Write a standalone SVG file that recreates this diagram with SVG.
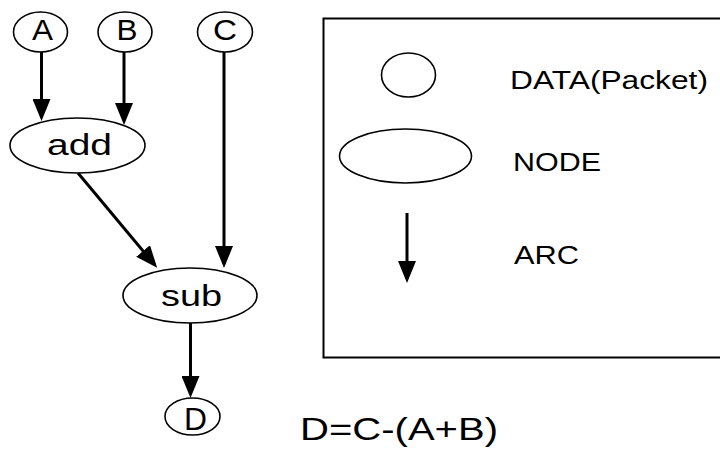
<svg xmlns="http://www.w3.org/2000/svg" width="720" height="452" viewBox="0 0 720 452">
  <style>
    .shape { fill: #ffffff; stroke: #000000; stroke-width: 1.6; }
    .arc { stroke: #000000; stroke-width: 3; fill: none; marker-end: url(#head); }
    .lbl { font-family: "Liberation Sans", Arial, sans-serif; fill: #000000; }
  </style>
  <defs>
    <marker id="head" viewBox="0 0 22 18" refX="18" refY="9" markerWidth="22" markerHeight="18" markerUnits="userSpaceOnUse" orient="auto">
      <path d="M0,0 L22,9 L0,18 Z" fill="#000000"/>
    </marker>
  </defs>

  <!-- dataflow arcs -->
  <g id="connectors">
    <line class="arc" x1="41.5" y1="52" x2="41.5" y2="117"/>
    <line class="arc" x1="124" y1="52" x2="124" y2="121"/>
    <line class="arc" x1="78" y1="173" x2="154.6" y2="264.8"/>
    <line class="arc" x1="224" y1="52" x2="224" y2="264"/>
    <line class="arc" x1="190.5" y1="323" x2="190.5" y2="394"/>
  </g>

  <!-- data packets and operator nodes -->
  <g id="A">
    <ellipse class="shape" cx="40.5" cy="32" rx="27" ry="20"/>
    <text class="lbl" x="32" y="39.5" font-size="29" textLength="21" lengthAdjust="spacingAndGlyphs">A</text>
  </g>
  <g id="B">
    <ellipse class="shape" cx="125" cy="32" rx="27" ry="20"/>
    <text class="lbl" x="116.5" y="39.5" font-size="29" textLength="21" lengthAdjust="spacingAndGlyphs">B</text>
  </g>
  <g id="C">
    <ellipse class="shape" cx="225" cy="32" rx="27.5" ry="20"/>
    <text class="lbl" x="213" y="40" font-size="29" textLength="24" lengthAdjust="spacingAndGlyphs">C</text>
  </g>
  <g id="add">
    <ellipse class="shape" cx="77.5" cy="145.5" rx="67.5" ry="27.5"/>
    <text class="lbl" x="47" y="155" font-size="29" textLength="65" lengthAdjust="spacingAndGlyphs">add</text>
  </g>
  <g id="sub">
    <ellipse class="shape" cx="190" cy="295.5" rx="67" ry="27.5"/>
    <text class="lbl" x="161" y="306" font-size="30" textLength="61" lengthAdjust="spacingAndGlyphs">sub</text>
  </g>
  <g id="D">
    <ellipse class="shape" cx="192.5" cy="416.5" rx="27.5" ry="18.5"/>
    <text class="lbl" x="184" y="430" font-size="31" textLength="23" lengthAdjust="spacingAndGlyphs">D</text>
  </g>

  <!-- legend -->
  <g id="legend">
    <rect x="323.5" y="18.5" width="420" height="339" fill="none" stroke="#000000" stroke-width="2"/>
    <ellipse class="shape" cx="408.5" cy="75" rx="27" ry="22"/>
    <text class="lbl" x="510" y="89" font-size="26" textLength="198" lengthAdjust="spacingAndGlyphs">DATA(Packet)</text>
    <ellipse class="shape" cx="405.5" cy="156" rx="66" ry="27"/>
    <text class="lbl" x="513" y="171" font-size="25" textLength="88" lengthAdjust="spacingAndGlyphs">NODE</text>
    <line class="arc" x1="407" y1="213" x2="407" y2="279"/>
    <text class="lbl" x="514" y="264" font-size="25" textLength="65" lengthAdjust="spacingAndGlyphs">ARC</text>
  </g>

  <!-- expression -->
  <g id="formula">
    <text class="lbl" x="300" y="440" font-size="32" textLength="198" lengthAdjust="spacingAndGlyphs">D=C-(A+B)</text>
  </g>
</svg>
